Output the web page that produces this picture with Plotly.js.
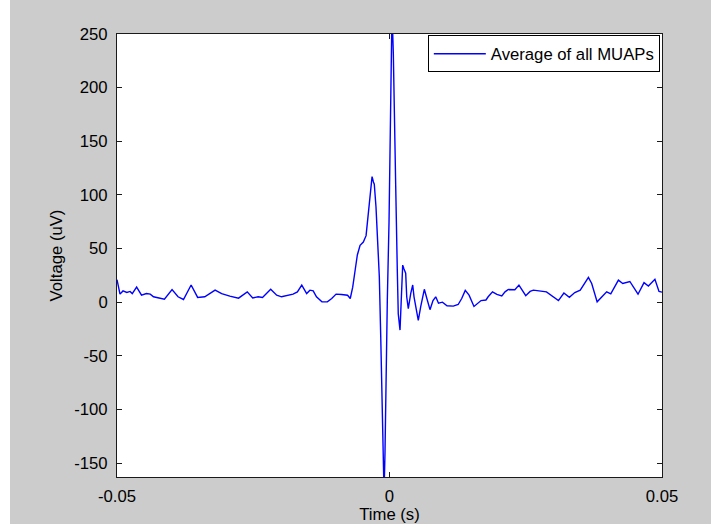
<!DOCTYPE html>
<html>
<head>
<meta charset="utf-8">
<script src="https://cdn.plot.ly/plotly-3.0.1.min.js"></script>
<style>
html, body { margin: 0; padding: 0; background: #ffffff; }
#chart { position: absolute; left: 10px; top: 0px; width: 701px; height: 524px; }
</style>
</head>
<body>
<div id="chart"></div>
<script>
// Time (s)
var timeS = [
-0.05000,-0.04945,-0.04890,-0.04820,-0.04760,-0.04720,-0.04640,-0.04550,-0.04460,-0.04390,
-0.04330,-0.04240,-0.04130,-0.03990,-0.03880,-0.03780,-0.03640,-0.03520,-0.03390,-0.03200,
-0.03080,-0.02930,-0.02770,-0.02610,-0.02510,-0.02410,-0.02330,-0.02180,-0.02070,-0.01980,
-0.01890,-0.01770,-0.01690,-0.01610,-0.01520,-0.01460,-0.01400,-0.01340,-0.01240,-0.01140,
-0.01060,-0.00980,-0.00880,-0.00770,-0.00720,-0.00675,-0.00630,-0.00590,-0.00540,-0.00480,
-0.00430,-0.00400,-0.00358,-0.00320,-0.00295,-0.00279,-0.00248,-0.00224,-0.00187,-0.00161,
-0.00138,-0.00119,-0.00100,-0.00083,-0.00064,-0.00040,-0.00009,0.00009,0.00028,0.00046,
0.00070,0.00088,0.00114,0.00143,0.00161,0.00193,0.00211,0.00242,0.00266,0.00297,
0.00316,0.00345,0.00389,0.00426,0.00450,0.00486,0.00528,0.00572,0.00639,0.00688,
0.00743,0.00798,0.00848,0.00899,0.00972,0.01055,0.01170,0.01260,0.01325,0.01390,
0.01460,0.01550,0.01610,0.01680,0.01770,0.01810,0.01890,0.01970,0.02060,0.02120,
0.02180,0.02300,0.02375,0.02430,0.02500,0.02580,0.02640,0.02880,0.03100,0.03200,
0.03300,0.03400,0.03500,0.03650,0.03710,0.03810,0.03985,0.04060,0.04200,0.04280,
0.04410,0.04560,0.04670,0.04750,0.04870,0.04945,0.05000
];
// Voltage (uV)
var voltageUV = [
21,7.5,10.5,9,10,8,14,6.5,8,7.5,
5,4,2.8,11.8,5,2.5,16,4.4,5,11.2,
8,5.6,3.7,9.6,4,5,4.4,12,6.5,5,
5.9,7.5,9.6,15.9,8,11.2,10.5,5,0.3,0.3,
3.4,7.5,7.2,6.5,3.4,14,30,44,53,56,
62,76,101,117,112,110,89,64,24,-32,
-85,-141,-178,-141,-73,2,74,148,216,272,
232,170,108,30,-11,-26,-7.5,34.5,31,27,
5,-6,8,16,5,-6,-17,-4.4,12,3,
-7,1.5,5,-1,0,-3.4,-3.7,-2.2,3.4,11,
6.5,-4,-1.2,1.5,2,5,9.6,7.2,5.9,9.6,
11.8,11.5,15.9,11,6,10,11.2,9.6,1.5,8.5,
4.5,9,11.2,23,17.4,0.3,9.6,7.8,20.5,17.4,
19.3,7.4,18.2,15.1,21.3,10,9.3
];
var seriesName = 'Average of all MUAPs';
var xTickVals = [-0.05, 0, 0.05];
var xTickText = ['-0.05', '0', '0.05'];
var yTickVals = [-150, -100, -50, 0, 50, 100, 150, 200, 250];
var yTickText = ['-150', '-100', '-50', '0', '50', '100', '150', '200', '250'];

var fontFam = '"Liberation Sans", Arial, Helvetica, sans-serif';
var fs = 16.7;
var axisCol = '#1a1a1a';

var trace = {
  x: timeS, y: voltageUV, type: 'scatter', mode: 'lines', name: seriesName,
  line: { color: '#0000ff', width: 1.4 }
};

var layout = {
  width: 701, height: 524,
  paper_bgcolor: '#cccccc', plot_bgcolor: '#ffffff',
  margin: { l: 107, r: 49, t: 34, b: 47, pad: 0 },
  font: { family: fontFam, size: fs, color: '#000000' },
  showlegend: true,
  legend: {
    x: 0.996, xanchor: 'right', y: 0.997, yanchor: 'top',
    bgcolor: '#ffffff', bordercolor: '#000000', borderwidth: 1,
    font: { family: fontFam, size: fs, color: '#000000' },
    itemwidth: 52
  },
  xaxis: {
    range: [-0.05, 0.05], tickmode: 'array', tickvals: xTickVals, ticktext: xTickText,
    ticks: 'inside', ticklen: 5, tickwidth: 1, tickcolor: axisCol,
    showline: true, linecolor: axisCol, linewidth: 1, mirror: 'ticks',
    showgrid: false, zeroline: false, ticklabelstandoff: 4,
    tickfont: { family: fontFam, size: fs, color: '#000000' },
    title: { text: 'Time (s)', font: { family: fontFam, size: fs, color: '#000000' }, standoff: 4 },
    automargin: false
  },
  yaxis: {
    range: [-163, 250], tickmode: 'array', tickvals: yTickVals, ticktext: yTickText,
    ticks: 'inside', ticklen: 5, tickwidth: 1, tickcolor: axisCol,
    showline: true, linecolor: axisCol, linewidth: 1, mirror: 'ticks',
    showgrid: false, zeroline: false, ticklabelstandoff: 5,
    tickfont: { family: fontFam, size: fs, color: '#000000' },
    title: { text: 'Voltage (uV)', font: { family: fontFam, size: fs, color: '#000000' }, standoff: 7 },
    automargin: false
  }
};

Plotly.newPlot('chart', [trace], layout, { displayModeBar: false, staticPlot: true });
</script>
</body>
</html>
